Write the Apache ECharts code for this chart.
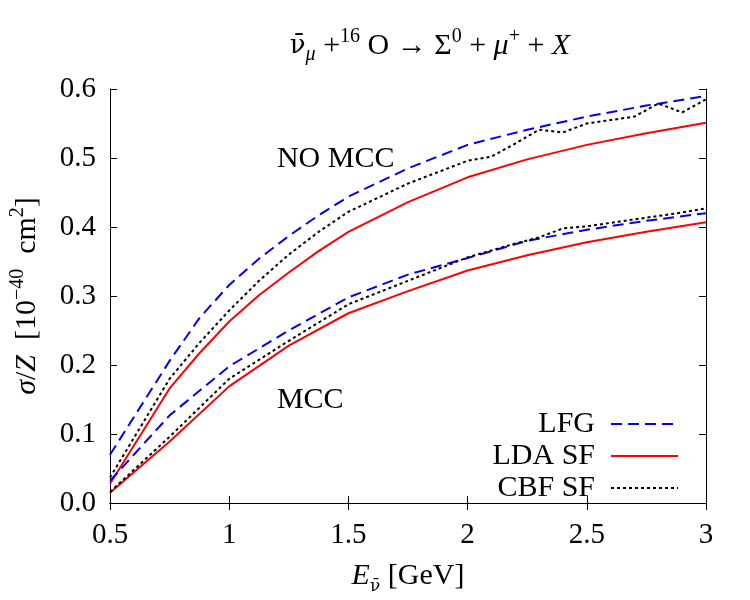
<!DOCTYPE html>
<html>
<head>
<meta charset="utf-8">
<script src="https://cdn.jsdelivr.net/npm/echarts@6/dist/echarts.min.js"></script>
<style>
  html, body { margin: 0; padding: 0; background: #fff; }
  #chart { width: 750px; height: 600px; }
</style>
</head>
<body>
<div id="chart"></div>
<script>
// energies (GeV)
const energyMcc = [0.5, 0.75, 1, 1.25, 1.5, 1.75, 2, 2.25, 2.5, 2.75, 3];
const energyNoMcc = [0.5, 0.75, 0.875, 1, 1.125, 1.25, 1.375, 1.5, 1.75, 2, 2.25, 2.5, 2.75, 3];
const energyCbfNoMcc = [0.5, 0.75, 0.875, 1, 1.125, 1.25, 1.375, 1.5, 1.75, 2, 2.1, 2.2, 2.3, 2.4, 2.5, 2.6, 2.7, 2.8, 2.9, 3];
const energyCbfMcc = [0.5, 0.75, 1, 1.25, 1.5, 1.75, 2, 2.1, 2.2, 2.3, 2.4, 2.5, 2.6, 2.7, 2.8, 2.9, 3];

// sigma/Z [1e-40 cm^2], no MCC
const lfgNoMcc = [0.070, 0.206, 0.268, 0.316, 0.354, 0.387, 0.417, 0.444, 0.485, 0.519, 0.541, 0.560, 0.576, 0.590];
const ldaNoMcc = [0.028, 0.166, 0.217, 0.263, 0.301, 0.334, 0.365, 0.393, 0.436, 0.472, 0.498, 0.519, 0.536, 0.551];
const cbfNoMcc = [0.037, 0.180, 0.232, 0.279, 0.322, 0.360, 0.393, 0.422, 0.463, 0.496, 0.502, 0.521, 0.541, 0.537, 0.550, 0.555, 0.560, 0.579, 0.566, 0.585];

// with MCC
const lfgMcc = [0.032, 0.127, 0.198, 0.250, 0.298, 0.331, 0.355, 0.380, 0.396, 0.409, 0.420];
const ldaMcc = [0.015, 0.089, 0.169, 0.228, 0.275, 0.307, 0.337, 0.359, 0.378, 0.393, 0.407];
const cbfMcc = [0.016, 0.096, 0.180, 0.235, 0.288, 0.322, 0.356, 0.366, 0.376, 0.385, 0.398, 0.401, 0.406, 0.411, 0.416, 0.421, 0.427];

const xTicks = [0.5, 1, 1.5, 2, 2.5, 3];
const yTicks = [0, 0.1, 0.2, 0.3, 0.4, 0.5, 0.6];
const legendNames = ["LFG", "LDA SF", "CBF SF"];

// text labels inside the plot: [text, E, sigma]
const notes = [["NO MCC", 1.2, 0.5], ["MCC", 1.2, 0.15]];

const font = "Liberation Serif";
const fs = 29;

function pairs(xs, ys) {
  return xs.map((x, i) => [x, ys[i]]);
}

const styles = {
  "LFG": { color: "#0000ff", width: 2, type: [11, 6] },
  "LDA SF": { color: "#ff0000", width: 2, type: "solid" },
  "CBF SF": { color: "#000000", width: 2, type: [3, 3] },
};

function line(name, xs, ys) {
  return {
    name: name,
    type: "line",
    data: pairs(xs, ys),
    showSymbol: false,
    symbol: "none",
    animation: false,
    lineStyle: styles[name],
    itemStyle: { color: styles[name].color },
  };
}

const richSup = {
  i: { fontFamily: font, fontSize: 30, fontStyle: "italic", lineHeight: 38 },
  nu: { fontFamily: "DejaVu Serif", fontSize: 26, lineHeight: 38 },
  r: { fontFamily: font, fontSize: 30, lineHeight: 38 },
  sup: { fontFamily: font, fontSize: 20, verticalAlign: "top", lineHeight: 38 },
  sub: { fontFamily: font, fontSize: 20, fontStyle: "italic", verticalAlign: "bottom", lineHeight: 38 },
  subnu: { fontFamily: "DejaVu Serif", fontSize: 17, verticalAlign: "bottom", lineHeight: 36 },
};

const option = {
  backgroundColor: "#fff",
  title: {
    text: "{nu|ν\u0304}{sub|μ}{r| +}{sup|16}{r| O → Σ}{sup|0}{r| + }{i|μ}{sup|+}{r| + }{i|X}",
    left: 425,
    textAlign: "center",
    top: 22,
    textStyle: { rich: richSup, fontWeight: "normal", color: "#000" },
  },
  legend: {
    data: legendNames,
    orient: "vertical",
    align: "right",
    right: 66,
    top: 404,
    itemWidth: 67,
    itemHeight: 2,
    itemGap: 2,
    selectedMode: false,
    itemStyle: { opacity: 0 },
    textStyle: {
      fontFamily: font,
      fontSize: 30,
      color: "#000",
      lineHeight: 29,
      padding: [0, 11, 0, 0],
    },
  },
  grid: { left: 110, right: 44, top: 89, bottom: 97 },
  xAxis: [
    {
      type: "value",
      min: xTicks[0],
      max: xTicks[xTicks.length - 1],
      interval: 0.5,
      name: "{i|E}{subnu|ν\u0304}{r| [GeV]}",
      nameLocation: "middle",
      nameGap: 54,
      nameTextStyle: { rich: richSup, color: "#000" },
      axisLine: { lineStyle: { color: "#000", width: 1 } },
      axisTick: { inside: true, length: 7, lineStyle: { color: "#000" } },
      axisLabel: { fontFamily: font, fontSize: fs, color: "#000", margin: 18 },
      splitLine: { show: false },
    },
    {
      type: "value",
      position: "top",
      min: xTicks[0],
      max: xTicks[xTicks.length - 1],
      interval: 0.5,
      axisLine: { show: true, lineStyle: { color: "#000", width: 1 } },
      axisTick: { inside: true, length: 7, lineStyle: { color: "#000" } },
      axisLabel: { show: false },
      splitLine: { show: false },
    },
  ],
  yAxis: [
    {
      type: "value",
      min: yTicks[0],
      max: yTicks[yTicks.length - 1],
      interval: 0.1,
      name: "{i|σ}{r|/}{i|Z}{r|  [10}{sup|−40}{r|  cm}{sup|2}{r|]}",
      nameLocation: "middle",
      nameRotate: 90,
      nameGap: 64,
      nameTextStyle: { rich: richSup, color: "#000" },
      axisLine: { show: true, lineStyle: { color: "#000", width: 1 } },
      axisTick: { inside: true, length: 7, lineStyle: { color: "#000" } },
      axisLabel: {
        fontFamily: font,
        fontSize: fs,
        color: "#000",
        margin: 14,
        formatter: (v) => v.toFixed(1),
      },
      splitLine: { show: false },
    },
    {
      type: "value",
      position: "right",
      min: yTicks[0],
      max: yTicks[yTicks.length - 1],
      interval: 0.1,
      axisLine: { show: true, lineStyle: { color: "#000", width: 1 } },
      axisTick: { inside: true, length: 7, lineStyle: { color: "#000" } },
      axisLabel: { show: false },
      splitLine: { show: false },
    },
  ],
  series: [
    line("LFG", energyNoMcc, lfgNoMcc),
    line("LDA SF", energyNoMcc, ldaNoMcc),
    line("CBF SF", energyCbfNoMcc, cbfNoMcc),
    line("LFG", energyMcc, lfgMcc),
    line("LDA SF", energyMcc, ldaMcc),
    line("CBF SF", energyCbfMcc, cbfMcc),
  ],
};

const chart = echarts.init(document.getElementById("chart"));
chart.setOption(option);

// place the two region labels at data coordinates
chart.setOption({
  graphic: notes.map((n) => {
    const p = chart.convertToPixel({ gridIndex: 0 }, [n[1], n[2]]);
    return {
      type: "text",
      left: p[0],
      top: p[1] - 14,
      style: { text: n[0], font: "30px '" + font + "'", fill: "#000" },
    };
  }),
});
</script>
</body>
</html>
